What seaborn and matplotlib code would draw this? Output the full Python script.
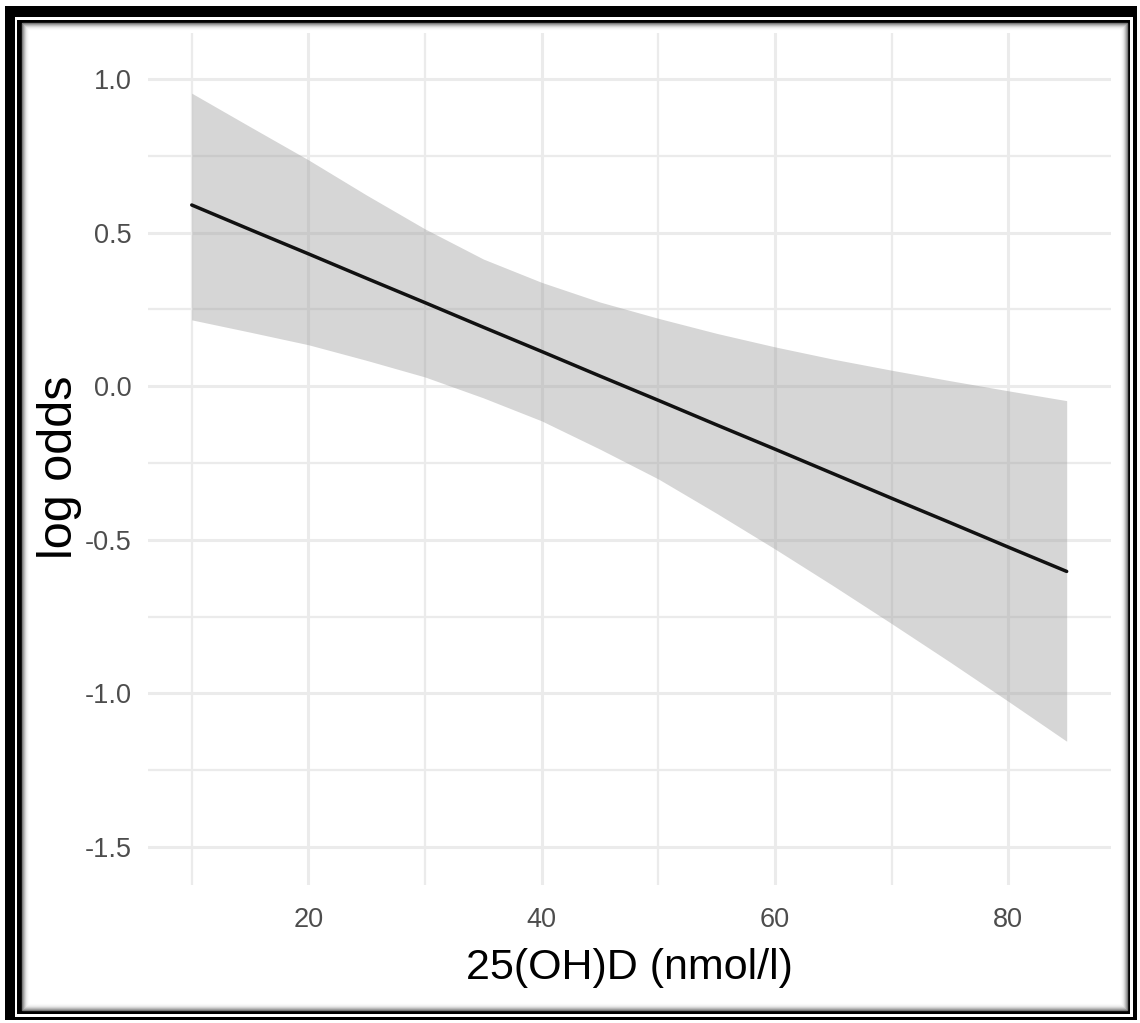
import numpy as np
import pandas as pd
import seaborn as sns
import matplotlib
matplotlib.use("Agg")
import matplotlib.pyplot as plt
from matplotlib.patches import Rectangle

# 数据
vitd = [10, 15, 20, 25, 30, 35, 40, 45, 50, 55, 60, 65, 70, 75, 80, 85]
fit = [0.590, 0.510, 0.431, 0.351, 0.272, 0.192, 0.113, 0.033, -0.046, -0.126,
       -0.205, -0.285, -0.365, -0.444, -0.524, -0.603]
upper = [0.954, 0.845, 0.737, 0.622, 0.512, 0.414, 0.338, 0.274, 0.221, 0.172,
         0.128, 0.088, 0.052, 0.018, -0.015, -0.047]
lower = [0.216, 0.176, 0.135, 0.084, 0.030, -0.038, -0.113, -0.205, -0.302, -0.414,
         -0.530, -0.650, -0.773, -0.898, -1.026, -1.156]

x_major = [20, 40, 60, 80]
x_minor = [10, 30, 50, 70]
y_major = [-1.5, -1.0, -0.5, 0.0, 0.5, 1.0]
y_minor = [-1.25, -0.75, -0.25, 0.25, 0.75]
y_ticklabels = ['-1.5', '-1.0', '-0.5', '0.0', '0.5', '1.0']

df = pd.DataFrame({'vitd': vitd, 'fit': fit, 'upper': upper, 'lower': lower})

sns.set_style('white')
plt.rcParams['font.family'] = ['Liberation Sans', 'DejaVu Sans']

W, H = 1140, 1023
fig = plt.figure(figsize=(W / 100, H / 100), dpi=100)

# 外框（图片边框+阴影）
bg = fig.add_axes([0, 0, 1, 1], zorder=0)
bg.set_xlim(0, W)
bg.set_ylim(H, 0)
bg.axis('off')
bg.add_patch(Rectangle((5, 6), 1132, 1014, color='black', lw=0))
bg.add_patch(Rectangle((15, 17), 1118, 1000, color='white', lw=0))
bg.add_patch(Rectangle((17, 20), 1113, 994, color='black', lw=0))
bg.add_patch(Rectangle((22, 23), 1105, 987, color='white', lw=0))
for i, g in enumerate([0.45, 0.6, 0.72, 0.82, 0.9, 0.95, 0.98]):
    bg.add_patch(Rectangle((22 + i, 23 + i), 1105 - 2 * i, 987 - 2 * i,
                           fill=False, ec=(g, g, g), lw=1.0))

# 主图
ax = fig.add_axes([148 / W, 1 - 885 / H, (1111 - 148) / W, (885 - 33) / H], zorder=1)
ax.patch.set_visible(False)

ax.set_xticks(x_major)
ax.set_xticks(x_minor, minor=True)
ax.set_yticks(y_major)
ax.set_yticklabels(y_ticklabels)
ax.set_yticks(y_minor, minor=True)
ax.grid(which='major', color='#EBEBEB', lw=2.2, zorder=0)
ax.grid(which='minor', color='#EBEBEB', lw=1.6, zorder=0)
ax.set_axisbelow(True)

ax.fill_between(df['vitd'], df['lower'], df['upper'], color='#999999', alpha=0.4, lw=0, zorder=2)
sns.lineplot(data=df, x='vitd', y='fit', color='#111111', lw=2.5, ax=ax, zorder=3)

ax.set_xlim(6.25, 88.8)
ax.set_ylim(-1.624, 1.15)
sns.despine(ax=ax, left=True, bottom=True)
ax.tick_params(which='both', length=0, labelsize=19.5, labelcolor='#4D4D4D')
ax.tick_params(axis='x', pad=16)
ax.tick_params(axis='y', pad=12)

ax.set_xlabel('25(OH)D (nmol/l)', fontsize=31, color='black')
ax.set_ylabel('log odds', fontsize=35, color='black')
ax.xaxis.label.set_va('center')
ax.xaxis.set_label_coords(0.5, (885 - 968) / 852)
ax.yaxis.label.set_va('center')
ax.yaxis.set_label_coords((60 - 148) / 963, 0.49)

fig.savefig('out.png', dpi=100)
